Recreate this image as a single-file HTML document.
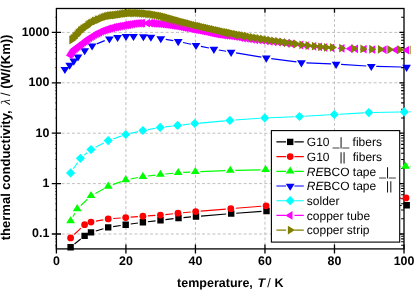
<!DOCTYPE html>
<html><head><meta charset="utf-8"><title>thermal conductivity</title>
<style>html,body{margin:0;padding:0;background:#fff;overflow:hidden}svg{display:block}text{text-rendering:geometricPrecision}svg{will-change:transform}.ls{font-family:"Liberation Sans",sans-serif}.lse{font-family:"Liberation Serif",serif}</style>
</head><body>
<svg width="415" height="291" viewBox="0 0 415 291">
<rect width="415" height="291" fill="#fff"/>
<path d="M125.92 8.5 V248.9 M195.44 8.5 V248.9 M264.96 8.5 V248.9 M334.48 8.5 V248.9 M56.4 234.00 H404.0 M56.4 183.60 H404.0 M56.4 133.20 H404.0 M56.4 82.80 H404.0 M56.4 32.40 H404.0" stroke="#c0c0c0" stroke-width="1" stroke-dasharray="3 2.2" fill="none"/>
<rect x="56.4" y="8.5" width="347.6" height="240.4" fill="none" stroke="#000" stroke-width="1.3"/>
<path d="M56.40 244.4 V253.5 M125.92 244.4 V253.5 M195.44 244.4 V253.5 M264.96 244.4 V253.5 M334.48 244.4 V253.5 M404.00 244.4 V253.5 M125.92 8.5 V12.8 M195.44 8.5 V12.8 M264.96 8.5 V12.8 M334.48 8.5 V12.8 M51.8 234.00 H61.0 M399.4 234.00 H404.0 M51.8 183.60 H61.0 M399.4 183.60 H404.0 M51.8 133.20 H61.0 M399.4 133.20 H404.0 M51.8 82.80 H61.0 M399.4 82.80 H404.0 M51.8 32.40 H61.0 M399.4 32.40 H404.0" stroke="#000" stroke-width="1.3" fill="none"/>
<path d="M401.1 245.18 H404.0 M55.5 245.18 H56.4 M401.1 241.81 H404.0 M55.5 241.81 H56.4 M401.1 238.88 H404.0 M55.5 238.88 H56.4 M401.1 236.31 H404.0 M55.5 236.31 H56.4 M401.1 218.83 H404.0 M55.5 218.83 H56.4 M401.1 209.95 H404.0 M55.5 209.95 H56.4 M401.1 203.66 H404.0 M55.5 203.66 H56.4 M401.1 198.77 H404.0 M55.5 198.77 H56.4 M401.1 194.78 H404.0 M55.5 194.78 H56.4 M401.1 191.41 H404.0 M55.5 191.41 H56.4 M401.1 188.48 H404.0 M55.5 188.48 H56.4 M401.1 185.91 H404.0 M55.5 185.91 H56.4 M401.1 168.43 H404.0 M55.5 168.43 H56.4 M401.1 159.55 H404.0 M55.5 159.55 H56.4 M401.1 153.26 H404.0 M55.5 153.26 H56.4 M401.1 148.37 H404.0 M55.5 148.37 H56.4 M401.1 144.38 H404.0 M55.5 144.38 H56.4 M401.1 141.01 H404.0 M55.5 141.01 H56.4 M401.1 138.08 H404.0 M55.5 138.08 H56.4 M401.1 135.51 H404.0 M55.5 135.51 H56.4 M401.1 118.03 H404.0 M55.5 118.03 H56.4 M401.1 109.15 H404.0 M55.5 109.15 H56.4 M401.1 102.86 H404.0 M55.5 102.86 H56.4 M401.1 97.97 H404.0 M55.5 97.97 H56.4 M401.1 93.98 H404.0 M55.5 93.98 H56.4 M401.1 90.61 H404.0 M55.5 90.61 H56.4 M401.1 87.68 H404.0 M55.5 87.68 H56.4 M401.1 85.11 H404.0 M55.5 85.11 H56.4 M401.1 67.63 H404.0 M55.5 67.63 H56.4 M401.1 58.75 H404.0 M55.5 58.75 H56.4 M401.1 52.46 H404.0 M55.5 52.46 H56.4 M401.1 47.57 H404.0 M55.5 47.57 H56.4 M401.1 43.58 H404.0 M55.5 43.58 H56.4 M401.1 40.21 H404.0 M55.5 40.21 H56.4 M401.1 37.28 H404.0 M55.5 37.28 H56.4 M401.1 34.71 H404.0 M55.5 34.71 H56.4 M401.1 17.23 H404.0 M55.5 17.23 H56.4" stroke="#000" stroke-width="1.05" fill="none"/>
<clipPath id="cp"><rect x="0" y="0" width="410.8" height="291"/></clipPath>
<g clip-path="url(#cp)">
<path d="M74.49 244.06 L80.71 239.04 M95.80 231.00 L103.40 228.80 M113.14 226.64 L120.76 225.46 M130.65 224.01 L137.95 222.99 M147.87 221.74 L155.53 220.86 M165.46 219.67 L173.54 218.63 M183.48 217.57 L191.02 216.93 M200.98 216.09 L226.22 214.01 M236.19 213.23 L261.51 211.37 M271.50 210.80 L401.70 205.50 M411.70 205.09 L445.00 203.71" stroke="#000" stroke-width="1.15" fill="none"/>
<path d="M67.40 244.00h6.4v6.4h-6.4zM81.40 232.70h6.4v6.4h-6.4zM87.80 229.20h6.4v6.4h-6.4zM105.00 224.20h6.4v6.4h-6.4zM122.50 221.50h6.4v6.4h-6.4zM139.70 219.10h6.4v6.4h-6.4zM157.30 217.10h6.4v6.4h-6.4zM175.30 214.80h6.4v6.4h-6.4zM192.80 213.30h6.4v6.4h-6.4zM228.00 210.40h6.4v6.4h-6.4zM263.30 207.80h6.4v6.4h-6.4zM403.50 202.10h6.4v6.4h-6.4zM446.80 200.30h6.4v6.4h-6.4z" fill="#000"/>
<path d="M74.24 234.47 L80.96 228.13 M95.92 221.19 L103.28 219.81 M113.19 218.53 L120.71 217.97 M130.68 217.19 L137.92 216.61 M147.89 215.89 L155.41 215.41 M165.37 214.56 L173.03 213.74 M182.98 212.75 L190.72 212.05 M200.68 211.19 L225.82 209.11 M235.78 208.29 L261.12 206.21 M271.09 205.52 L401.01 198.18 M411.00 197.74 L445.00 196.66" stroke="#ff0000" stroke-width="1.15" fill="none"/>
<circle cx="70.60" cy="237.90" r="3.4" fill="#ff0000"/><circle cx="84.60" cy="224.70" r="3.4" fill="#ff0000"/><circle cx="91.00" cy="222.10" r="3.4" fill="#ff0000"/><circle cx="108.20" cy="218.90" r="3.4" fill="#ff0000"/><circle cx="125.70" cy="217.60" r="3.4" fill="#ff0000"/><circle cx="142.90" cy="216.20" r="3.4" fill="#ff0000"/><circle cx="160.40" cy="215.10" r="3.4" fill="#ff0000"/><circle cx="178.00" cy="213.20" r="3.4" fill="#ff0000"/><circle cx="195.70" cy="211.60" r="3.4" fill="#ff0000"/><circle cx="230.80" cy="208.70" r="3.4" fill="#ff0000"/><circle cx="266.10" cy="205.80" r="3.4" fill="#ff0000"/><circle cx="406.00" cy="197.90" r="3.4" fill="#ff0000"/><circle cx="450.00" cy="196.50" r="3.4" fill="#ff0000"/>
<path d="M72.99 216.61 L74.81 213.29 M80.83 205.46 L87.37 199.24 M95.39 193.40 L103.81 188.80 M112.89 184.66 L121.01 181.64 M130.61 178.96 L137.99 177.54 M147.86 176.00 L155.44 175.10 M165.37 174.00 L173.23 173.20 M183.19 172.44 L190.31 172.06 M200.30 171.61 L225.30 170.69 M235.30 170.40 L260.60 169.90 M270.60 169.68 L400.60 166.52 M410.60 166.31 L445.00 165.69" stroke="#00ff00" stroke-width="1.15" fill="none"/>
<path d="M70.60 216.20L75.00 223.30H66.20zM77.20 204.10L81.60 211.20H72.80zM91.00 191.00L95.40 198.10H86.60zM108.20 181.60L112.60 188.70H103.80zM125.70 175.10L130.10 182.20H121.30zM142.90 171.80L147.30 178.90H138.50zM160.40 169.70L164.80 176.80H156.00zM178.20 167.90L182.60 175.00H173.80zM195.30 167.00L199.70 174.10H190.90zM230.30 165.70L234.70 172.80H225.90zM265.60 165.00L270.00 172.10H261.20zM405.60 161.60L410.00 168.70H401.20zM450.00 160.80L454.40 167.90H445.60z" fill="#00ff00"/>
<path d="M96.74 43.85 L104.76 40.65 M155.84 37.75 L155.86 37.75 M165.73 39.32 L173.27 40.58 M183.08 42.47 L191.12 44.23 M200.89 46.34 L209.01 48.06 M218.83 49.96 L226.17 51.24 M236.03 52.91 L261.37 57.09 M271.26 58.56 L296.44 61.94 M306.40 62.82 L331.10 63.88 M341.09 64.41 L366.31 65.99 M376.30 66.41 L401.60 66.99" stroke="#0000ff" stroke-width="1.15" fill="none"/>
<path d="M64.90 74.10L69.30 67.00H60.50zM69.70 69.80L74.10 62.70H65.30zM73.80 65.70L78.20 58.60H69.40zM78.00 61.50L82.40 54.40H73.60zM84.70 55.30L89.10 48.20H80.30zM92.10 50.50L96.50 43.40H87.70zM109.40 43.60L113.80 36.50H105.00zM117.60 42.00L122.00 34.90H113.20zM126.00 41.00L130.40 33.90H121.60zM133.50 41.00L137.90 33.90H129.10zM143.40 41.30L147.80 34.20H139.00zM150.90 41.80L155.30 34.70H146.50zM160.80 43.30L165.20 36.20H156.40zM178.20 46.20L182.60 39.10H173.80zM196.00 50.10L200.40 43.00H191.60zM213.90 53.90L218.30 46.80H209.50zM231.10 56.90L235.50 49.80H226.70zM266.30 62.70L270.70 55.60H261.90zM301.40 67.40L305.80 60.30H297.00zM336.10 68.90L340.50 61.80H331.70zM371.30 71.10L375.70 64.00H366.90zM406.60 71.90L411.00 64.80H402.20z" fill="#0000ff"/>
<path d="M73.39 168.75 L77.61 162.45 M84.26 155.13 L87.14 152.77 M95.43 147.28 L103.77 142.92 M112.92 138.95 L120.98 136.15 M130.57 133.37 L138.03 131.63 M147.82 129.62 L155.28 128.28 M165.17 126.83 L172.63 125.97 M182.57 124.85 L189.83 124.05 M199.78 123.06 L224.92 120.84 M234.89 120.04 L259.71 118.26 M269.70 117.70 L294.50 116.70 M304.49 116.21 L329.31 114.79 M339.29 114.23 L363.81 112.87 M373.80 112.50 L399.20 112.00 M409.20 111.80 L445.00 111.10" stroke="#00ffff" stroke-width="1.15" fill="none"/>
<path d="M70.60 168.30L75.20 172.90L70.60 177.50L66.00 172.90zM80.40 153.70L85.00 158.30L80.40 162.90L75.80 158.30zM91.00 145.00L95.60 149.60L91.00 154.20L86.40 149.60zM108.20 136.00L112.80 140.60L108.20 145.20L103.60 140.60zM125.70 129.90L130.30 134.50L125.70 139.10L121.10 134.50zM142.90 125.90L147.50 130.50L142.90 135.10L138.30 130.50zM160.20 122.80L164.80 127.40L160.20 132.00L155.60 127.40zM177.60 120.80L182.20 125.40L177.60 130.00L173.00 125.40zM194.80 118.90L199.40 123.50L194.80 128.10L190.20 123.50zM229.90 115.80L234.50 120.40L229.90 125.00L225.30 120.40zM264.70 113.30L269.30 117.90L264.70 122.50L260.10 117.90zM299.50 111.90L304.10 116.50L299.50 121.10L294.90 116.50zM334.30 109.90L338.90 114.50L334.30 119.10L329.70 114.50zM368.80 108.00L373.40 112.60L368.80 117.20L364.20 112.60zM404.20 107.30L408.80 111.90L404.20 116.50L399.60 111.90zM450.00 106.40L454.60 111.00L450.00 115.60L445.40 111.00z" fill="#00ffff"/>
<path d="M65.60 55.19L72.70 50.79V59.59zM66.81 53.18L73.91 48.78V57.58zM68.04 51.29L75.14 46.89V55.69zM69.30 49.65L76.40 45.25V54.05zM70.58 48.52L77.68 44.12V52.92zM71.89 47.42L78.99 43.02V51.82zM73.22 46.44L80.32 42.04V50.84zM74.58 45.49L81.68 41.09V49.89zM75.97 44.43L83.07 40.03V48.83zM77.38 43.39L84.48 38.99V47.79zM78.83 42.18L85.93 37.78V46.58zM80.30 41.24L87.40 36.84V45.64zM81.80 40.07L88.90 35.67V44.47zM83.33 38.82L90.43 34.42V43.22zM84.90 37.69L92.00 33.29V42.09zM86.49 36.73L93.59 32.33V41.13zM88.12 35.76L95.22 31.36V40.16zM89.77 34.70L96.87 30.30V39.10zM91.47 33.92L98.57 29.52V38.32zM93.19 33.18L100.29 28.78V37.58zM94.95 32.26L102.05 27.86V36.66zM96.75 31.46L103.85 27.06V35.86zM98.56 30.68L105.66 26.28V35.08zM100.40 30.03L107.50 25.63V34.43zM102.25 29.42L109.35 25.02V33.82zM104.12 28.74L111.22 24.34V33.14zM106.01 28.39L113.11 23.99V32.79zM107.91 27.74L115.01 23.34V32.14zM109.84 27.21L116.94 22.81V31.61zM111.79 26.98L118.89 22.58V31.38zM113.75 26.51L120.85 22.11V30.91zM115.74 26.05L122.84 21.65V30.45zM117.75 25.78L124.85 21.38V30.18zM119.77 25.27L126.87 20.87V29.67zM121.82 25.01L128.92 20.61V29.41zM123.88 24.73L130.98 20.33V29.13zM125.97 24.31L133.07 19.91V28.71zM128.08 24.02L135.18 19.62V28.42zM130.21 23.67L137.31 19.27V28.07zM132.36 23.45L139.46 19.05V27.85zM134.53 23.26L141.63 18.86V27.66zM136.72 23.31L143.82 18.91V27.71zM138.00 23.20L145.10 18.80V27.60zM142.80 23.21L149.90 18.81V27.61zM145.72 23.15L152.82 18.75V27.55zM148.01 23.25L155.11 18.85V27.65zM150.30 23.54L157.40 19.14V27.94zM152.58 23.72L159.68 19.32V28.12zM154.84 23.87L161.94 19.47V28.27zM157.10 24.12L164.20 19.72V28.52zM159.34 24.38L166.44 19.98V28.78zM161.58 24.61L168.68 20.21V29.01zM163.80 24.74L170.90 20.34V29.14zM166.02 25.16L173.12 20.76V29.56zM168.22 25.51L175.32 21.11V29.91zM170.41 25.83L177.51 21.43V30.23zM172.60 26.22L179.70 21.82V30.62zM174.77 26.66L181.87 22.26V31.06zM176.93 27.03L184.03 22.63V31.43zM179.09 27.51L186.19 23.11V31.91zM181.23 27.95L188.33 23.55V32.35zM183.37 28.19L190.47 23.79V32.59zM185.49 28.72L192.59 24.32V33.12zM187.60 29.14L194.70 24.74V33.54zM189.71 29.55L196.81 25.15V33.95zM191.80 29.81L198.90 25.41V34.21zM193.89 30.19L200.99 25.79V34.59zM195.96 30.61L203.06 26.21V35.01zM198.03 31.01L205.13 26.61V35.41zM200.08 31.43L207.18 27.03V35.83zM202.13 31.94L209.23 27.54V36.34zM204.17 32.43L211.27 28.03V36.83zM206.20 32.85L213.30 28.45V37.25zM208.21 33.23L215.31 28.83V37.63zM210.22 33.71L217.32 29.31V38.11zM212.22 34.18L219.32 29.78V38.58zM214.29 34.32L221.39 29.92V38.72zM216.41 34.68L223.51 30.28V39.08zM218.59 34.99L225.69 30.59V39.39zM220.85 35.23L227.95 30.83V39.63zM223.17 35.50L230.27 31.10V39.90zM225.55 35.73L232.65 31.33V40.13zM228.01 36.06L235.11 31.66V40.46zM230.55 36.61L237.65 32.21V41.01zM233.16 36.96L240.26 32.56V41.36zM235.85 37.51L242.95 33.11V41.91zM238.63 38.01L245.73 33.61V42.41zM241.52 38.33L248.62 33.93V42.73zM244.53 38.77L251.63 34.37V43.17zM247.66 39.34L254.76 34.94V43.74zM250.93 39.77L258.03 35.37V44.17zM254.32 40.08L261.42 35.68V44.48zM257.86 40.47L264.96 36.07V44.87zM261.55 40.88L268.65 36.48V45.28zM265.39 41.46L272.49 37.06V45.86zM269.38 41.83L276.48 37.43V46.23zM273.54 42.09L280.64 37.69V46.49zM277.87 42.65L284.97 38.25V47.05zM282.43 43.28L289.53 38.88V47.68zM287.27 43.93L294.37 39.53V48.33zM296.20 45.01L303.30 40.61V49.41zM301.70 45.64L308.80 41.24V50.04zM309.10 46.31L316.20 41.91V50.71zM314.90 46.82L322.00 42.42V51.22zM320.20 47.51L327.30 43.11V51.91zM327.20 47.86L334.30 43.46V52.26zM337.40 48.35L344.50 43.95V52.75zM345.60 48.70L352.70 44.30V53.10zM350.90 48.78L358.00 44.38V53.18zM359.50 49.22L366.60 44.82V53.62zM368.20 49.57L375.30 45.17V53.97zM379.50 49.70L386.60 45.30V54.10zM391.00 49.93L398.10 45.53V54.33zM402.10 50.13L409.20 45.73V54.53z" fill="#ff00ff"/>
<path d="M76.40 40.02L69.30 35.62V44.42zM77.43 38.79L70.33 34.39V43.19zM78.47 38.22L71.37 33.82V42.62zM79.53 36.55L72.43 32.15V40.95zM80.61 35.82L73.51 31.42V40.22zM81.71 34.41L74.61 30.01V38.81zM82.82 32.84L75.72 28.44V37.24zM83.96 32.13L76.86 27.73V36.53zM85.11 30.76L78.01 26.36V35.16zM86.28 30.25L79.18 25.85V34.65zM87.47 28.96L80.37 24.56V33.36zM88.68 28.04L81.58 23.64V32.44zM89.91 27.41L82.81 23.01V31.81zM91.17 26.82L84.07 22.42V31.22zM92.44 25.16L85.34 20.76V29.56zM93.73 24.23L86.63 19.83V28.63zM95.05 23.52L87.95 19.12V27.92zM96.39 22.96L89.29 18.56V27.36zM97.75 21.92L90.65 17.52V26.32zM99.13 21.02L92.03 16.62V25.42zM100.53 20.82L93.43 16.42V25.22zM101.96 19.76L94.86 15.36V24.16zM103.42 19.60L96.32 15.20V24.00zM104.89 18.80L97.79 14.40V23.20zM106.39 18.11L99.29 13.71V22.51zM107.91 17.45L100.81 13.05V21.85zM109.45 16.85L102.35 12.45V21.25zM111.01 16.34L103.91 11.94V20.74zM112.58 15.85L105.48 11.45V20.25zM114.17 15.70L107.07 11.30V20.10zM115.79 15.44L108.69 11.04V19.84zM117.42 15.21L110.32 10.81V19.61zM119.07 15.10L111.97 10.70V19.50zM120.74 14.80L113.64 10.40V19.20zM122.43 14.56L115.33 10.16V18.96zM124.14 14.29L117.04 9.89V18.69zM125.88 14.11L118.78 9.71V18.51zM127.63 13.71L120.53 9.31V18.11zM129.40 13.48L122.30 9.08V17.88zM131.20 13.38L124.10 8.98V17.78zM133.01 13.15L125.91 8.75V17.55zM134.85 12.94L127.75 8.54V17.34zM136.71 13.09L129.61 8.69V17.49zM138.60 13.06L131.50 8.66V17.46zM140.50 12.92L133.40 8.52V17.32zM142.43 13.07L135.33 8.67V17.47zM144.38 13.19L137.28 8.79V17.59zM146.36 13.43L139.26 9.03V17.83zM148.36 13.52L141.26 9.12V17.92zM150.38 13.53L143.28 9.13V17.93zM152.43 14.04L145.33 9.64V18.44zM154.50 14.09L147.40 9.69V18.49zM156.59 14.50L149.49 10.10V18.90zM158.69 14.96L151.59 10.56V19.36zM160.78 15.16L153.68 10.76V19.56zM162.88 15.64L155.78 11.24V20.04zM164.96 15.88L157.86 11.48V20.28zM167.05 16.44L159.95 12.04V20.84zM169.13 16.98L162.03 12.58V21.38zM171.21 17.43L164.11 13.03V21.83zM173.28 18.10L166.18 13.70V22.50zM175.35 18.54L168.25 14.14V22.94zM177.42 19.26L170.32 14.86V23.66zM179.49 19.83L172.39 15.43V24.23zM181.55 20.43L174.45 16.03V24.83zM183.61 20.99L176.51 16.59V25.39zM185.66 21.70L178.56 17.30V26.10zM187.72 22.27L180.62 17.87V26.67zM189.76 22.65L182.66 18.25V27.05zM191.81 23.23L184.71 18.83V27.63zM193.85 23.57L186.75 19.17V27.97zM195.89 24.29L188.79 19.89V28.69zM197.93 24.79L190.83 20.39V29.19zM199.96 25.41L192.86 21.01V29.81zM201.99 25.86L194.89 21.46V30.26zM204.02 26.20L196.92 21.80V30.60zM206.05 26.73L198.95 22.33V31.13zM208.07 27.31L200.97 22.91V31.71zM210.09 27.61L202.99 23.21V32.01zM212.10 28.23L205.00 23.83V32.63zM214.11 28.59L207.01 24.19V32.99zM216.12 29.03L209.02 24.63V33.43zM218.13 29.46L211.03 25.06V33.86zM220.13 30.12L213.03 25.72V34.52zM222.14 30.36L215.04 25.96V34.76zM224.20 30.83L217.10 26.43V35.23zM226.33 31.31L219.23 26.91V35.71zM228.51 31.91L221.41 27.51V36.31zM230.75 32.14L223.65 27.74V36.54zM233.06 32.72L225.96 28.32V37.12zM235.43 33.24L228.33 28.84V37.64zM237.87 33.81L230.77 29.41V38.21zM240.38 34.27L233.28 29.87V38.67zM242.95 34.78L235.85 30.38V39.18zM245.60 35.11L238.50 30.71V39.51zM248.33 35.67L241.23 31.27V40.07zM251.17 36.18L244.07 31.78V40.58zM254.13 36.88L247.03 32.48V41.28zM257.20 37.47L250.10 33.07V41.87zM260.40 37.82L253.30 33.42V42.22zM263.72 38.38L256.62 33.98V42.78zM267.18 38.96L260.08 34.56V43.36zM270.77 39.55L263.67 35.15V43.95zM274.51 40.23L267.41 35.83V44.63zM278.40 40.83L271.30 36.43V45.23zM282.45 41.34L275.35 36.94V45.74zM286.65 41.88L279.55 37.48V46.28zM291.07 42.63L283.97 38.23V47.03zM295.78 43.27L288.68 38.87V47.67zM300.79 44.02L293.69 39.62V48.42zM306.50 44.83L299.40 40.43V49.23zM312.70 45.50L305.60 41.10V49.90zM319.00 46.12L311.90 41.72V50.52zM325.30 46.79L318.20 42.39V51.19zM331.10 47.32L324.00 42.92V51.72zM337.00 47.45L329.90 43.05V51.85zM346.30 48.17L339.20 43.77V52.57zM358.30 48.53L351.20 44.13V52.93zM367.50 48.93L360.40 44.53V53.33zM376.30 49.27L369.20 44.87V53.67zM385.00 49.35L377.90 44.95V53.75zM394.40 49.56L387.30 45.16V53.96zM404.60 49.64L397.50 45.24V54.04zM417.30 50.02L410.20 45.62V54.42z" fill="#808000"/>
</g>
<g class="ls" font-weight="bold" font-size="12.4" fill="#000">
<text x="56.40" y="265.0" text-anchor="middle">0</text>
<text x="125.92" y="265.0" text-anchor="middle">20</text>
<text x="195.44" y="265.0" text-anchor="middle">40</text>
<text x="264.96" y="265.0" text-anchor="middle">60</text>
<text x="334.48" y="265.0" text-anchor="middle">80</text>
<text x="404.00" y="265.0" text-anchor="middle">100</text>
<text x="49.3" y="237.30" text-anchor="end">0.1</text>
<text x="49.3" y="186.90" text-anchor="end">1</text>
<text x="49.3" y="136.50" text-anchor="end">10</text>
<text x="49.3" y="86.10" text-anchor="end">100</text>
<text x="49.3" y="35.70" text-anchor="end">1000</text>
<text x="177.1" y="287.1" font-size="12.5">temperature,<tspan font-style="italic" dx="4.7">T</tspan><tspan dx="2.0" font-weight="normal">/</tspan><tspan dx="3.8">K</tspan></text>
<text transform="translate(10.0 34.6) rotate(-90)" font-size="13" text-anchor="end">thermal conductivity,<tspan class="lse" font-weight="normal" font-style="italic" dx="5.6">λ</tspan><tspan font-weight="normal" dx="3.2">/</tspan><tspan dx="3.6">(W/(Km))</tspan></text>
</g>
<rect x="271.4" y="130.6" width="128.3" height="111.5" fill="#fff" stroke="#000" stroke-width="1.1"/>
<path d="M276.4 141.90H286.09999999999997 M294.4 141.90H303.8" stroke="#000" stroke-width="1.15" fill="none"/>
<path d="M276.4 156.60H286.09999999999997 M294.4 156.60H303.8" stroke="#ff0000" stroke-width="1.15" fill="none"/>
<path d="M276.4 171.30H286.09999999999997 M294.4 171.30H303.8" stroke="#00ff00" stroke-width="1.15" fill="none"/>
<path d="M276.4 186.00H286.09999999999997 M294.4 186.00H303.8" stroke="#0000ff" stroke-width="1.15" fill="none"/>
<path d="M276.4 200.70H286.09999999999997 M294.4 200.70H303.8" stroke="#00ffff" stroke-width="1.15" fill="none"/>
<path d="M276.4 215.40H286.09999999999997 M294.4 215.40H303.8" stroke="#ff00ff" stroke-width="1.15" fill="none"/>
<path d="M276.4 230.10H286.09999999999997 M294.4 230.10H303.8" stroke="#808000" stroke-width="1.15" fill="none"/>
<path d="M287.00 138.70h6.4v6.4h-6.4z" fill="#000"/>
<circle cx="290.20" cy="156.60" r="3.4" fill="#ff0000"/>
<path d="M290.20 166.50L294.60 173.60H285.80z" fill="#00ff00"/>
<path d="M290.20 190.80L294.60 183.70H285.80z" fill="#0000ff"/>
<path d="M290.20 196.10L294.80 200.70L290.20 205.30L285.60 200.70z" fill="#00ffff"/>
<path d="M285.40 215.40L292.50 211.00V219.80z" fill="#ff00ff"/>
<path d="M295.00 230.10L287.90 225.70V234.50z" fill="#808000"/>
<g class="ls" font-size="12" fill="#000" style="white-space:pre">
<text x="306.8" y="146.20" xml:space="preserve">G10 _|_ fibers</text>
<text x="306.8" y="160.90" xml:space="preserve">G10   ||<tspan dx="7.0">fibers</tspan></text>
<text x="306.8" y="175.60" xml:space="preserve"><tspan font-style="italic">RE</tspan>BCO tape<tspan dx="3.1">_|_</tspan></text>
<text x="306.8" y="190.30" xml:space="preserve"><tspan font-style="italic">RE</tspan>BCO tape<tspan dx="9.9">||</tspan></text>
<text x="306.8" y="205.00">solder</text>
<text x="306.8" y="219.70">copper tube</text>
<text x="306.8" y="234.40">copper strip</text>
</g>
</svg>
</body></html>
